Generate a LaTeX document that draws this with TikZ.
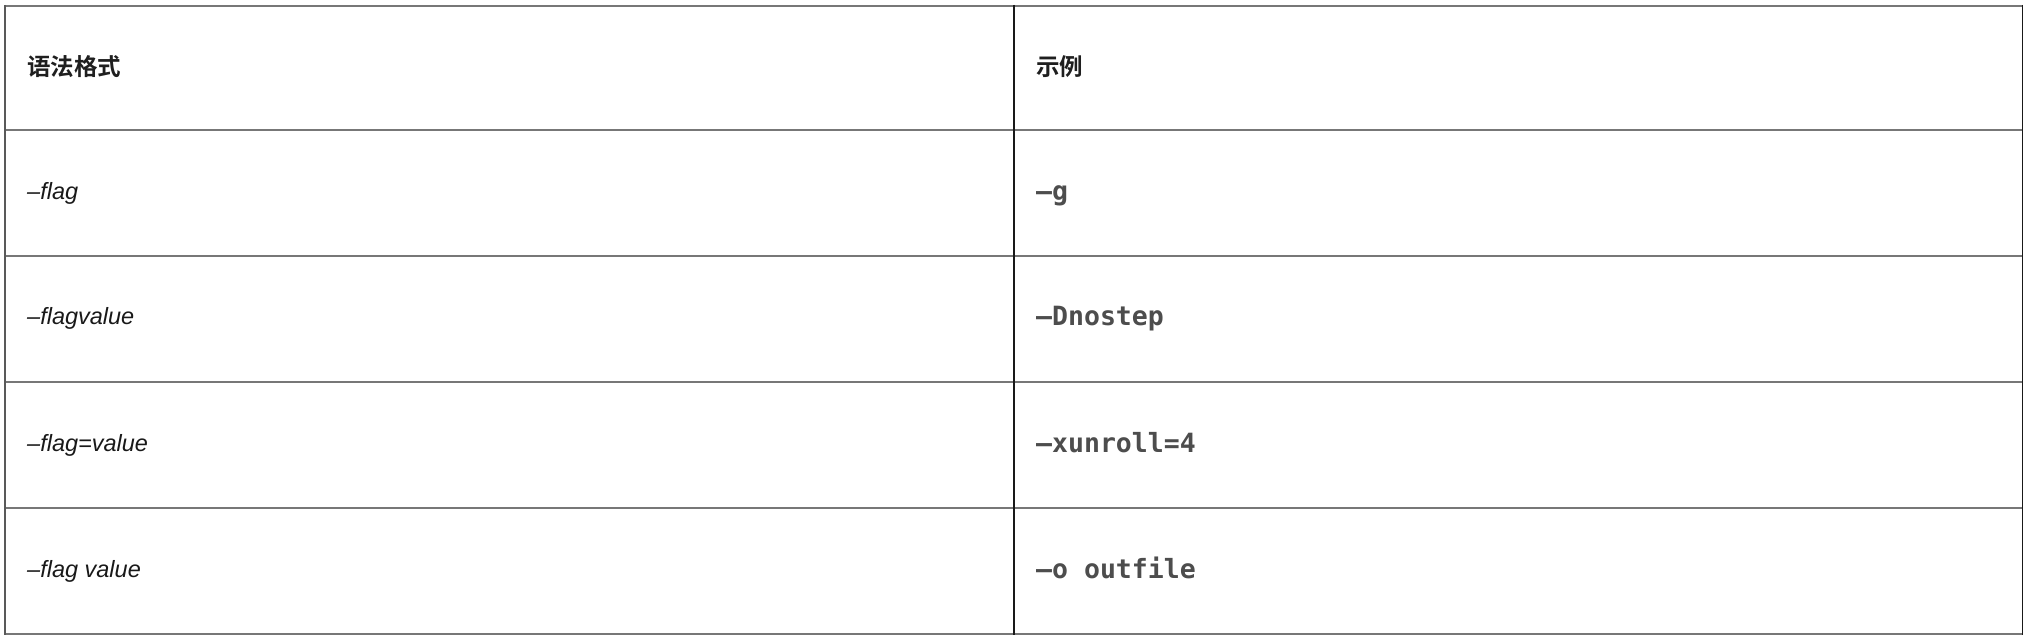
\documentclass[tikz,border=0pt]{standalone}
\usepackage{fontspec}
\setmainfont{Liberation Sans}
\newfontfamily\cjk{Noto Sans CJK SC}[BoldFont={Noto Sans CJK SC Bold}]
\newfontfamily\codefont{DejaVu Sans Mono}
\usepackage{tikz}
\usetikzlibrary{positioning}

\definecolor{rulegray}{HTML}{777777}
\definecolor{codegray}{HTML}{4D4D4D}

\begin{document}
\begin{tikzpicture}[
    x=1pt, y=-1pt,
    head/.style={anchor=base west, inner sep=0pt, font=\cjk\bfseries\fontsize{23.5}{28}\selectfont, text=black!88},
    syntax/.style={anchor=base west, inner sep=0pt, font=\itshape\fontsize{23.5}{28}\selectfont, text=black!90},
    code/.style={anchor=base west, inner sep=0pt, font=\codefont\bfseries\fontsize{26.5}{30}\selectfont, text=codegray},
    hrule/.style={draw=rulegray, line width=2pt},
    vrule/.style={draw=black!90, line width=1.8pt}
]
    \useasboundingbox (0, 0) rectangle (2032, 644);

    % Header
    \node[head] (h1) at (27, 76) {语法格式};
    \node[head] (h2) at (1036, 76) {示例};

    % Left column
    \node[syntax] (s1) at (27, 200) {–flag};
    \node[syntax] (s2) at (27, 325) {–flagvalue};
    \node[syntax] (s3) at (27, 451) {–flag=value};
    \node[syntax] (s4) at (27, 577) {–flag value};

    % Right column
    \node[code] (c1) at (1036, 201) {–g};
    \node[code] (c2) at (1036, 326) {–Dnostep};
    \node[code] (c3) at (1036, 452) {–xunroll=4};
    \node[code] (c4) at (1036, 578) {–o outfile};

    % Horizontal rules
    \draw[hrule] (5, 6) -- (2023, 6);
    \draw[hrule] (5, 130) -- (2023, 130);
    \draw[hrule] (5, 256) -- (2023, 256);
    \draw[hrule] (5, 382) -- (2023, 382);
    \draw[hrule] (5, 508) -- (2023, 508);
    \draw[hrule] (5, 634) -- (2023, 634);

    % Vertical rules
    \draw[vrule, draw=black!65] (5, 5) -- (5, 635);
    \draw[vrule] (1014, 5) -- (1014, 635);
    \draw[vrule] (2022.5, 5) -- (2022.5, 635);

\end{tikzpicture}
\end{document}
